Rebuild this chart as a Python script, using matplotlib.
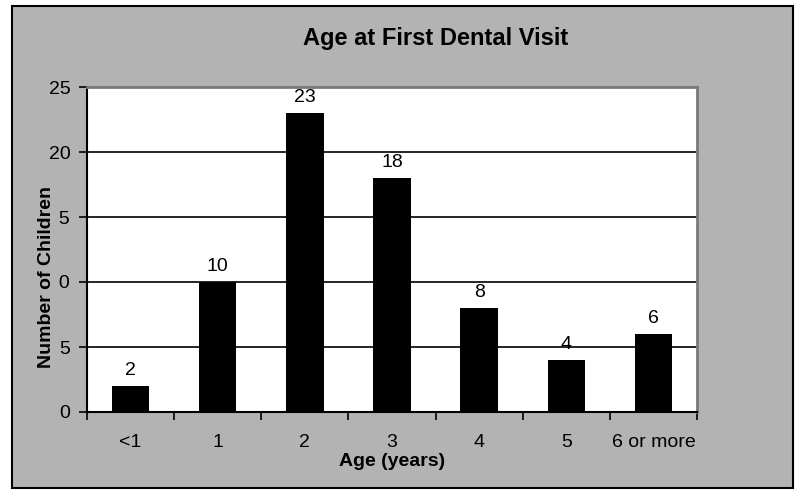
import matplotlib.pyplot as plt
import matplotlib.patches as patches
import numpy as np

plt.rcParams['font.family'] = ['Liberation Sans', 'DejaVu Sans']

categories = ['<1', '1', '2', '3', '4', '5', '6 or more']
counts = [2, 10, 23, 18, 8, 4, 6]
y_ticks = [0, 5, 10, 15, 20, 25]

W, H = 800, 498
fig = plt.figure(figsize=(8, 4.98), dpi=100)
fig.patch.set_facecolor('white')

# grey chart area with black frame
box = patches.Rectangle((12 / W, 1 - 488 / H), (793 - 12) / W, (488 - 6) / H,
                        transform=fig.transFigure, facecolor='#b3b3b3',
                        edgecolor='black', linewidth=1.5, zorder=-1)
fig.patches.append(box)

ax = fig.add_axes([87 / W, 1 - 412 / H, (697 - 87) / W, (412 - 87) / H])
ax.set_facecolor('white')

x = np.arange(len(categories))
bars = ax.bar(x, counts, width=0.43, color='black', zorder=3)
ax.bar_label(bars, labels=[str(c) for c in counts], padding=5, fontsize=14)

ax.set_xlim(-0.5, len(categories) - 0.5)
ax.set_ylim(0, 25)
ax.set_yticks(y_ticks)
ax.set_xticks(x)
ax.set_xticklabels(categories, fontsize=14)
ax.set_xticks(np.arange(len(categories) + 1) - 0.5, minor=True)
ax.tick_params(axis='x', which='major', length=0, pad=16)
ax.tick_params(axis='x', which='minor', length=6, width=1.2, direction='out')
ax.tick_params(axis='y', length=6, width=1.2, labelsize=14, pad=6)

ax.grid(axis='y', color='black', linewidth=1.2, zorder=0)
ax.set_axisbelow(True)

for side in ['left', 'bottom']:
    ax.spines[side].set_color('black')
    ax.spines[side].set_linewidth(1.5)
for side in ['top', 'right']:
    ax.spines[side].set_color('#7a7a7a')
    ax.spines[side].set_linewidth(2)

ax.set_xlabel('Age (years)', fontsize=14, fontweight='bold')
ax.xaxis.set_label_coords((392 - 87) / 610, -(461 - 412) / 325)
ax.xaxis.label.set_verticalalignment('center')

# label sits over the tick labels, hiding part of them as in the original
ax.set_ylabel('Number of Children', fontsize=14, fontweight='bold',
              bbox=dict(facecolor='#b3b3b3', edgecolor='none', pad=2.5))
ax.yaxis.set_label_coords(-(87 - 47) / 610, (412 - 277) / 325)
ax.yaxis.label.set_verticalalignment('center')

fig.text(436 / W, 1 - 39 / H, 'Age at First Dental Visit', fontsize=17,
         fontweight='bold', ha='center', va='center')

fig.savefig('out.png', dpi=100)
